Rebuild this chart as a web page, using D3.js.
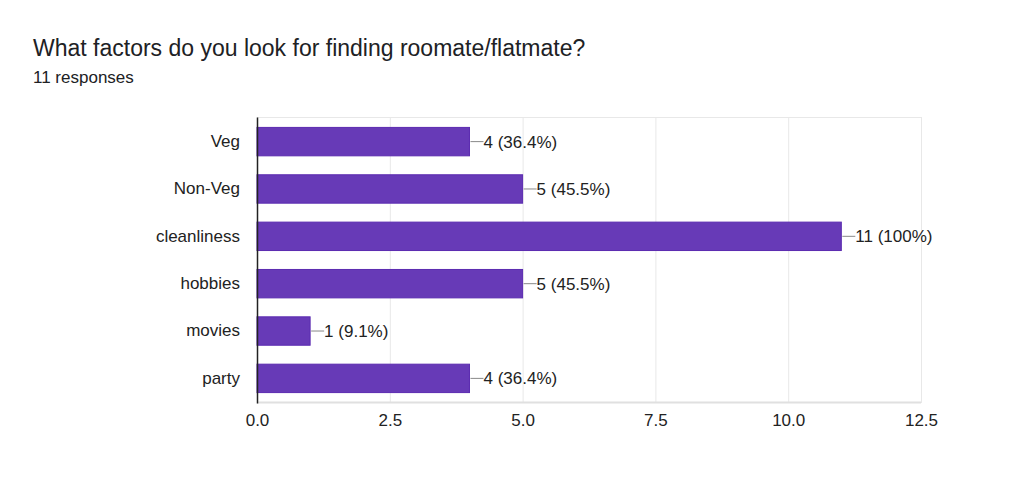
<!DOCTYPE html>
<html>
<head>
<meta charset="utf-8">
<script src="https://cdn.jsdelivr.net/npm/d3@7"></script>
<style>
  body { margin: 0; background: #fff; font-family: "Liberation Sans", Arial, sans-serif; }
  .title { font-size: 23px; fill: #202124; }
  .subtitle { font-size: 17px; fill: #202124; }
  .tick text { font-size: 17px; fill: #222; font-family: "Liberation Sans", Arial, sans-serif; }
  .bar-label { font-size: 17px; fill: #222; }
</style>
</head>
<body>
<div id="chart"></div>
<script>
// data
const categories = ["Veg", "Non-Veg", "cleanliness", "hobbies", "movies", "party"];
const counts = [4, 5, 11, 5, 1, 4];
const percents = ["36.4%", "45.5%", "100%", "45.5%", "9.1%", "36.4%"];
const xTicks = [0, 2.5, 5, 7.5, 10, 12.5];

const W = 1024, H = 487;
const margin = { top: 117, right: 103, bottom: 84, left: 257 };
const width = W - margin.left - margin.right;
const height = H - margin.top - margin.bottom;

const svg = d3.select("#chart")
    .append("svg")
    .attr("width", W)
    .attr("height", H);

// title
svg.append("text")
    .attr("class", "title")
    .attr("x", 33)
    .attr("y", 56)
    .text("What factors do you look for finding roomate/flatmate?");
svg.append("text")
    .attr("class", "subtitle")
    .attr("x", 33)
    .attr("y", 83)
    .text("11 responses");

const g = svg.append("g")
    .attr("transform", `translate(${margin.left}, ${margin.top})`);

const x = d3.scaleLinear().domain([0, 12.5]).range([0, width]);
const y = d3.scaleBand()
    .domain(categories)
    .range([0, height])
    .paddingInner(0.4)
    .paddingOuter(0.22);

// vertical grid
g.append("g")
    .selectAll("line")
    .data(xTicks)
    .join("line")
    .attr("x1", d => x(d) + 0.5)
    .attr("x2", d => x(d) + 0.5)
    .attr("y1", 0)
    .attr("y2", height)
    .attr("stroke", "#e8e8e8");
// top & bottom frame lines
g.append("line").attr("x1", 0).attr("x2", width).attr("y1", 0.5).attr("y2", 0.5).attr("stroke", "#e8e8e8");
g.append("line").attr("x1", 0).attr("x2", width).attr("y1", height - 0.5).attr("y2", height - 0.5).attr("stroke", "#e0e0e0").attr("stroke-width", 2);

// bars
const data = categories.map((c, i) => ({ cat: c, v: counts[i], p: percents[i] }));
g.append("g")
    .selectAll("rect")
    .data(data)
    .join("rect")
    .attr("x", 0)
    .attr("y", d => y(d.cat))
    .attr("width", d => x(d.v))
    .attr("height", y.bandwidth())
    .attr("fill", "#673ab7")
    .attr("stroke", "#5b2bb0")
    .attr("stroke-width", 1);

// leader lines + labels
g.append("g")
    .selectAll("line")
    .data(data)
    .join("line")
    .attr("x1", d => x(d.v) + 1)
    .attr("x2", d => x(d.v) + 14)
    .attr("y1", d => y(d.cat) + y.bandwidth() / 2)
    .attr("y2", d => y(d.cat) + y.bandwidth() / 2)
    .attr("stroke", "#888")
    .attr("stroke-width", 1);
g.append("g")
    .selectAll("text")
    .data(data)
    .join("text")
    .attr("class", "bar-label")
    .attr("x", d => x(d.v) + 14)
    .attr("y", d => y(d.cat) + y.bandwidth() / 2)
    .attr("dy", "0.35em")
    .text(d => `${d.v} (${d.p})`);

// y axis
g.append("g")
    .call(d3.axisLeft(y).tickSize(0).tickPadding(17))
    .call(a => a.select(".domain").attr("stroke", "#222").attr("stroke-width", 1.5));

// x axis
g.append("g")
    .attr("transform", `translate(0, ${height})`)
    .call(d3.axisBottom(x).tickValues(xTicks).tickSize(0).tickPadding(11).tickFormat(d3.format(".1f")))
    .call(a => a.select(".domain").remove());
</script>
</body>
</html>
